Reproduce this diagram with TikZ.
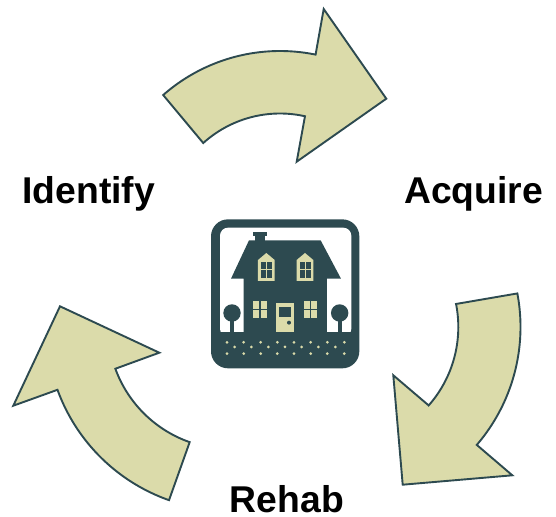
\documentclass[tikz,border=0pt]{standalone}
\usepackage{fontspec}
\setmainfont{Liberation Sans}
\definecolor{khaki}{HTML}{DBDBAA}
\definecolor{slate}{HTML}{2D4A50}
\tikzset{
  curvedarrow/.style={draw=slate,fill=khaki,line width=1.9pt,line join=miter},
  steplabel/.style={font=\fontsize{37.3}{37.3}\selectfont\bfseries,text=black,anchor=base west,inner sep=0pt},
  dark/.style={fill=slate,draw=none},
  cream/.style={fill=khaki,draw=none},
  arcplot/.style={samples=60}
}
\begin{document}
\begin{tikzpicture}[x=1pt,y=-1pt]
\useasboundingbox (0,0) rectangle (556,516);
\fill[white] (0,0) rectangle (556,516);
% arrows: bands of two concentric arcs
\draw[curvedarrow] plot[arcplot,domain=228.7:281.6] ({280+177*cos(\x)},{228+177*sin(\x)})
  -- (323.7,9) -- (386.3,98.7) -- (296.7,161.7)
  -- plot[arcplot,domain=282.6:227.9] ({280+114.5*cos(\x)},{228+114.5*sin(\x)}) -- cycle;
\draw[curvedarrow] plot[arcplot,domain=-11.2:41.4] ({339.7+118.6*cos(\x)},{327+118.6*sin(\x)})
  -- (393.3,375.3) -- (402.7,484.7) -- (512.3,475.3)
  -- plot[arcplot,domain=40.7:-10.7] ({339.7+180.8*cos(\x)},{327+180.8*sin(\x)}) -- cycle;
\draw[curvedarrow] plot[arcplot,domain=160.0:109.3] ({230+122*cos(\x)},{327+122*sin(\x)})
  -- plot[arcplot,domain=109.4:160.0] ({230+183.6*cos(\x)},{327+183.6*sin(\x)})
  -- (13.3,405.7) -- (60,306.3) -- (159.3,352.7) -- cycle;
% labels
\node[steplabel] (identify) at (22.3,203.5) {Identify};
\node[steplabel] (acquire) at (404,203.5) {Acquire};
\node[steplabel] (rehab) at (229.7,512.5) {Rehab};
% house icon, in units of a third of a pixel
\begin{scope}[shift={(200,210)},x=.3333pt,y=-.3333pt]
  \fill[dark,rounded corners=17pt] (33,28) rectangle (478,475);
  \fill[white,rounded corners=8pt] (60,380) -- (60,53) -- (454,53) -- (454,380) -- cycle;
  \fill[dark] (60,366) rectangle (454,400);
  % chimney and house
  \fill[dark] (159,66) rectangle (201,78);
  \fill[dark] (166,78) rectangle (195,92);
  \fill[dark] (147,91) -- (362,91) -- (423,206) -- (381,206) -- (381,366) -- (131,366) -- (131,206) -- (93,206) -- cycle;
  % dormers
  \foreach \dx in {0,116}{
    \begin{scope}[xshift=\dx*.3333pt]
      \fill[cream] (174,150) -- (199,129) -- (224,150) -- (224,213) -- (174,213) -- cycle;
      \fill[dark] (183,155) rectangle (216,203);
      \fill[cream] (198,155) rectangle (201,203);
      \fill[cream] (183,177) rectangle (216,180);
    \end{scope}
  }
  % lower windows
  \fill[cream] (159,273) rectangle (201,325);
  \fill[dark] (178,273) rectangle (182,325);
  \fill[dark] (159,297) rectangle (201,301);
  \fill[cream] (312,273) rectangle (351,325);
  \fill[dark] (330,273) rectangle (334,325);
  \fill[dark] (312,297) rectangle (351,301);
  % door
  \fill[cream] (228,279) rectangle (282,366);
  \fill[dark] (237,291) rectangle (272,321);
  \fill[dark] (267,338) circle[radius=2pt];
  % trees
  \fill[dark] (96,309) circle[radius=8.7pt];
  \fill[dark] (90,320) rectangle (103,366);
  \fill[dark] (419,309) circle[radius=8.7pt];
  \fill[dark] (413,320) rectangle (425,366);
  % ground dots
  \foreach \px in {81,131,182,232,282,332,382,433}{
    \fill[cream] (\px,397) circle[radius=1.5pt];
    \fill[cream] (\px,431) circle[radius=1.5pt];
  }
  \foreach \px in {104,154,205,255,305,355,406}{
    \fill[cream] (\px,411) circle[radius=1.5pt];
  }
\end{scope}
\end{tikzpicture}
\end{document}
